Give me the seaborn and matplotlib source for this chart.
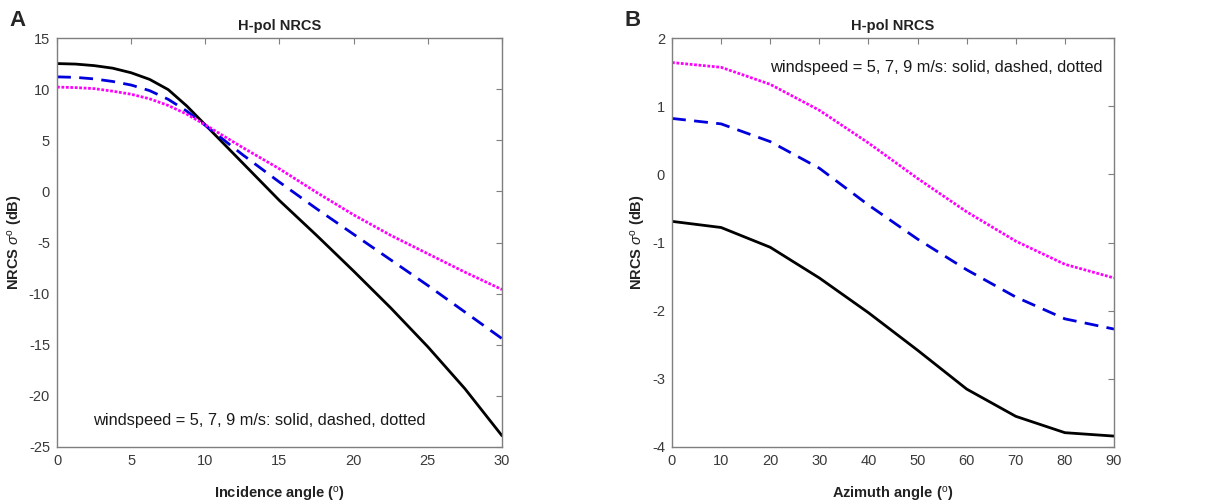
import numpy as np
import pandas as pd
import matplotlib
matplotlib.use("Agg")
import matplotlib.pyplot as plt
import seaborn as sns

# ---- data ----
inc_angle = [0, 1.25, 2.5, 3.75, 5, 6.25, 7.5, 8.75, 10, 12.5, 15, 17.5, 20, 22.5, 25, 27.5, 30]
inc_ws5 = [12.5, 12.45, 12.3, 12.05, 11.6, 10.95, 9.95, 8.35, 6.5, 2.8, -0.9, -4.3, -7.8, -11.4, -15.2, -19.3, -23.9]
inc_ws7 = [11.2, 11.15, 11.0, 10.75, 10.4, 9.85, 9.0, 7.85, 6.45, 3.6, 0.9, -1.7, -4.2, -6.7, -9.2, -11.8, -14.4]
inc_ws9 = [10.2, 10.15, 10.05, 9.8, 9.5, 9.05, 8.4, 7.55, 6.5, 4.3, 2.2, -0.1, -2.3, -4.3, -6.1, -7.9, -9.6]

azi_angle = [0, 10, 20, 30, 40, 50, 60, 70, 80, 90]
azi_ws5 = [-0.69, -0.78, -1.07, -1.52, -2.03, -2.58, -3.15, -3.55, -3.79, -3.84]
azi_ws7 = [0.82, 0.74, 0.48, 0.09, -0.45, -0.95, -1.40, -1.80, -2.12, -2.27]
azi_ws9 = [1.64, 1.57, 1.32, 0.94, 0.46, -0.06, -0.55, -0.98, -1.32, -1.52]

inc_xticks = [0, 5, 10, 15, 20, 25, 30]
inc_yticks = [-25, -20, -15, -10, -5, 0, 5, 10, 15]
azi_xticks = [0, 10, 20, 30, 40, 50, 60, 70, 80, 90]
azi_yticks = [-4, -3, -2, -1, 0, 1, 2]

title = "H-pol NRCS"
note = "windspeed = 5, 7, 9 m/s: solid, dashed, dotted"

sns.set_style("white")
plt.rcParams['font.family'] = ['Liberation Sans', 'DejaVu Sans']
plt.rcParams['axes.unicode_minus'] = False
plt.rcParams['mathtext.fontset'] = 'custom'
plt.rcParams['mathtext.rm'] = 'Liberation Sans'
plt.rcParams['mathtext.it'] = 'Liberation Sans:italic'
plt.rcParams['mathtext.bf'] = 'Liberation Sans:bold'

fig = plt.figure(figsize=(12.22, 5.04), dpi=100)
axA = fig.add_axes([57/1222, 1-447/504, 445/1222, 409/504])
axB = fig.add_axes([672/1222, 1-447/504, 442/1222, 409/504])

styles = [("#000000", "-"), ("#0000dd", (0, (5, 3))), ("#ff00ff", (0, (1, 0.6)))]

def draw(ax, x, ys):
    for y, (c, ls) in zip(ys, styles):
        sns.lineplot(x=x, y=y, ax=ax, color=c, linestyle=ls, linewidth=2.0, legend=False)

draw(axA, inc_angle, [inc_ws5, inc_ws7, inc_ws9])
draw(axB, azi_angle, [azi_ws5, azi_ws7, azi_ws9])

grey = "#7f7f7f"
lab = "#3a3a3a"
for ax, xt, yt in [(axA, inc_xticks, inc_yticks), (axB, azi_xticks, azi_yticks)]:
    ax.set_xlim(xt[0], xt[-1])
    ax.set_ylim(yt[0], yt[-1])
    ax.set_xticks(xt)
    ax.set_yticks(yt)
    ax.tick_params(direction="in", top=True, right=True, length=4, width=0.8,
                   color=grey, labelsize=10.5, labelcolor=lab, pad=5)
    for s in ax.spines.values():
        s.set_color(grey)
        s.set_linewidth(1.0)
    ax.set_title(title, fontsize=10.5, fontweight="bold", color="#222222", pad=6)
    ax.set_ylabel(r"NRCS $\sigma^{\rm o}$ (dB)", fontsize=10.5, fontweight="bold", color="#222222")

axA.set_xlabel(r"Incidence angle ($^{\rm o}$)", fontsize=10.5, fontweight="bold", color="#222222")
axB.set_xlabel(r"Azimuth angle ($^{\rm o}$)", fontsize=10.5, fontweight="bold", color="#222222")
axA.xaxis.set_label_coords(0.5, -0.093)
axB.xaxis.set_label_coords(0.5, -0.093)
axA.yaxis.set_label_coords(-0.072, 0.5)
axB.yaxis.set_label_coords(-0.055, 0.5)

axA.text(2.4, -22.4, note, fontsize=11.8, color="#1a1a1a", va="center", ha="left")
axB.text(20, 1.57, note, fontsize=11.8, color="#1a1a1a", va="center", ha="left")

fig.text(9/1222, 1-20/504, "A", fontsize=16, fontweight="bold", va="center", ha="left")
fig.text(624/1222, 1-20/504, "B", fontsize=16, fontweight="bold", va="center", ha="left")

fig.savefig("out.png", dpi=100, facecolor="white")
